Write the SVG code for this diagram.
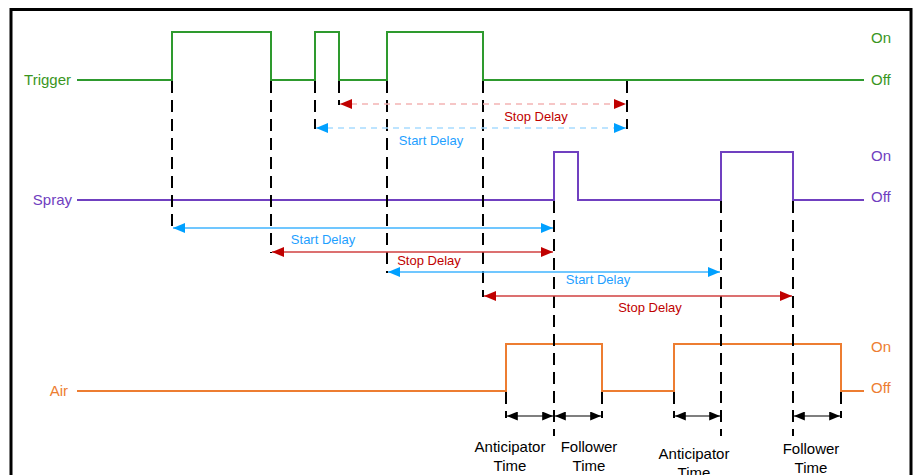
<svg xmlns="http://www.w3.org/2000/svg" width="919" height="475" viewBox="0 0 919 475">
<style>
text{font-family:"Liberation Sans",Arial,sans-serif;}
.lbl{font-size:15px;}
.dl{font-size:13px;text-anchor:middle;}
.bt{font-size:15px;text-anchor:middle;fill:#000;}
.sig{fill:none;stroke-width:2;}
.guide{fill:none;stroke:#000;stroke-width:2;stroke-dasharray:12 7;}
.tick{fill:none;stroke:#000;stroke-width:2;}
</style>
<defs>
<marker id="mBlue" viewBox="0 0 12 10" refX="12" refY="5" markerWidth="12" markerHeight="10" markerUnits="userSpaceOnUse" orient="auto-start-reverse"><path d="M0,0 L12,5 L0,10 z" fill="#00a0ff"/></marker>
<marker id="mRed" viewBox="0 0 12 10" refX="12" refY="5" markerWidth="12" markerHeight="10" markerUnits="userSpaceOnUse" orient="auto-start-reverse"><path d="M0,0 L12,5 L0,10 z" fill="#c00000"/></marker>
<marker id="mBlk" viewBox="0 0 12 10" refX="12" refY="5" markerWidth="12" markerHeight="9" markerUnits="userSpaceOnUse" orient="auto-start-reverse"><path d="M0,0 L12,5 L0,10 z" fill="#000"/></marker>
</defs>
<rect x="0" y="0" width="919" height="475" fill="#fff"/>
<rect x="11" y="9.5" width="900" height="480" fill="none" stroke="#000" stroke-width="3"/>

<g id="trigger">
<text class="lbl" x="71" y="85" text-anchor="end" fill="#3a961e">Trigger</text>
<polyline class="sig" stroke="#2e9a2e" points="77,80 172,80 172,32 271,32 271,80 315,80 315,32 339,32 339,80 387,80 387,32 483,32 483,80 864,80"/>
<text class="lbl" x="871" y="43" fill="#3a961e">On</text>
<text class="lbl" x="871" y="85" fill="#3a961e">Off</text>
</g>

<g id="spray">
<text class="lbl" x="72" y="205" text-anchor="end" fill="#7040c0">Spray</text>
<polyline class="sig" stroke="#7040c0" points="77,200 554,200 554,152 578,152 578,200 721,200 721,152 793,152 793,200 864,200"/>
<text class="lbl" x="871" y="161" fill="#7040c0">On</text>
<text class="lbl" x="871" y="202" fill="#7040c0">Off</text>
</g>

<g id="air">
<text class="lbl" x="68" y="396" text-anchor="end" fill="#ed7d31">Air</text>
<polyline class="sig" stroke="#ed7d31" points="77,391 506,391 506,344 602,344 602,391 674,391 674,344 841,344 841,391 864,391"/>
<text class="lbl" x="871" y="352" fill="#ed7d31">On</text>
<text class="lbl" x="871" y="393" fill="#ed7d31">Off</text>
</g>

<g id="connectors">
<line class="guide" x1="172" y1="81" x2="172" y2="229"/>
<line class="guide" x1="271" y1="81" x2="271" y2="253"/>
<line class="guide" x1="315" y1="81" x2="315" y2="129"/>
<line class="guide" x1="339" y1="81" x2="339" y2="105"/>
<line class="guide" x1="387" y1="81" x2="387" y2="273"/>
<line class="guide" x1="483" y1="81" x2="483" y2="297"/>
<line class="guide" x1="627" y1="81" x2="627" y2="129"/>
<line class="guide" x1="554" y1="201" x2="554" y2="436"/>
<line class="guide" x1="721" y1="201" x2="721" y2="436"/>
<line class="guide" x1="793" y1="201" x2="793" y2="436"/>
<line class="guide" x1="506" y1="392" x2="506" y2="418"/>
<line class="guide" x1="602" y1="392" x2="602" y2="418"/>
<line class="guide" x1="674" y1="392" x2="674" y2="418"/>
<line class="guide" x1="841" y1="392" x2="841" y2="418"/>

<line x1="340" y1="104" x2="626" y2="104" stroke="#f4b4b4" stroke-width="1.5" stroke-dasharray="6 5" marker-start="url(#mRed)" marker-end="url(#mRed)"/>
<line x1="316" y1="128" x2="626" y2="128" stroke="#a8dcff" stroke-width="1.5" stroke-dasharray="6 5" marker-start="url(#mBlue)" marker-end="url(#mBlue)"/>

<line x1="173" y1="228" x2="553" y2="228" stroke="#40b4ff" stroke-width="1.5" marker-start="url(#mBlue)" marker-end="url(#mBlue)"/>
<line x1="272" y1="252" x2="553" y2="252" stroke="#d04040" stroke-width="1.5" marker-start="url(#mRed)" marker-end="url(#mRed)"/>
<line x1="388" y1="272" x2="720" y2="272" stroke="#40b4ff" stroke-width="1.5" marker-start="url(#mBlue)" marker-end="url(#mBlue)"/>
<line x1="484" y1="296" x2="792" y2="296" stroke="#d04040" stroke-width="1.5" marker-start="url(#mRed)" marker-end="url(#mRed)"/>

<line x1="507" y1="416" x2="553" y2="416" stroke="#000" stroke-width="1.2" marker-start="url(#mBlk)" marker-end="url(#mBlk)"/>
<line x1="555" y1="416" x2="601" y2="416" stroke="#000" stroke-width="1.2" marker-start="url(#mBlk)" marker-end="url(#mBlk)"/>
<line x1="675" y1="416" x2="720" y2="416" stroke="#000" stroke-width="1.2" marker-start="url(#mBlk)" marker-end="url(#mBlk)"/>
<line x1="794" y1="416" x2="840" y2="416" stroke="#000" stroke-width="1.2" marker-start="url(#mBlk)" marker-end="url(#mBlk)"/>
</g>

<g id="labels">
<text class="dl" x="536" y="121" fill="#c00000">Stop Delay</text>
<text class="dl" x="431" y="145" fill="#1ea0ff">Start Delay</text>
<text class="dl" x="323" y="244" fill="#1ea0ff">Start Delay</text>
<text class="dl" x="429" y="265" fill="#c00000">Stop Delay</text>
<text class="dl" x="598" y="284" fill="#1ea0ff">Start Delay</text>
<text class="dl" x="650" y="312" fill="#c00000">Stop Delay</text>
<text class="bt" x="510" y="452">Anticipator</text>
<text class="bt" x="510" y="471">Time</text>
<text class="bt" x="589" y="452">Follower</text>
<text class="bt" x="589" y="471">Time</text>
<text class="bt" x="694" y="459">Anticipator</text>
<text class="bt" x="694" y="478">Time</text>
<text class="bt" x="811" y="454">Follower</text>
<text class="bt" x="811" y="473">Time</text>
</g>
</svg>
